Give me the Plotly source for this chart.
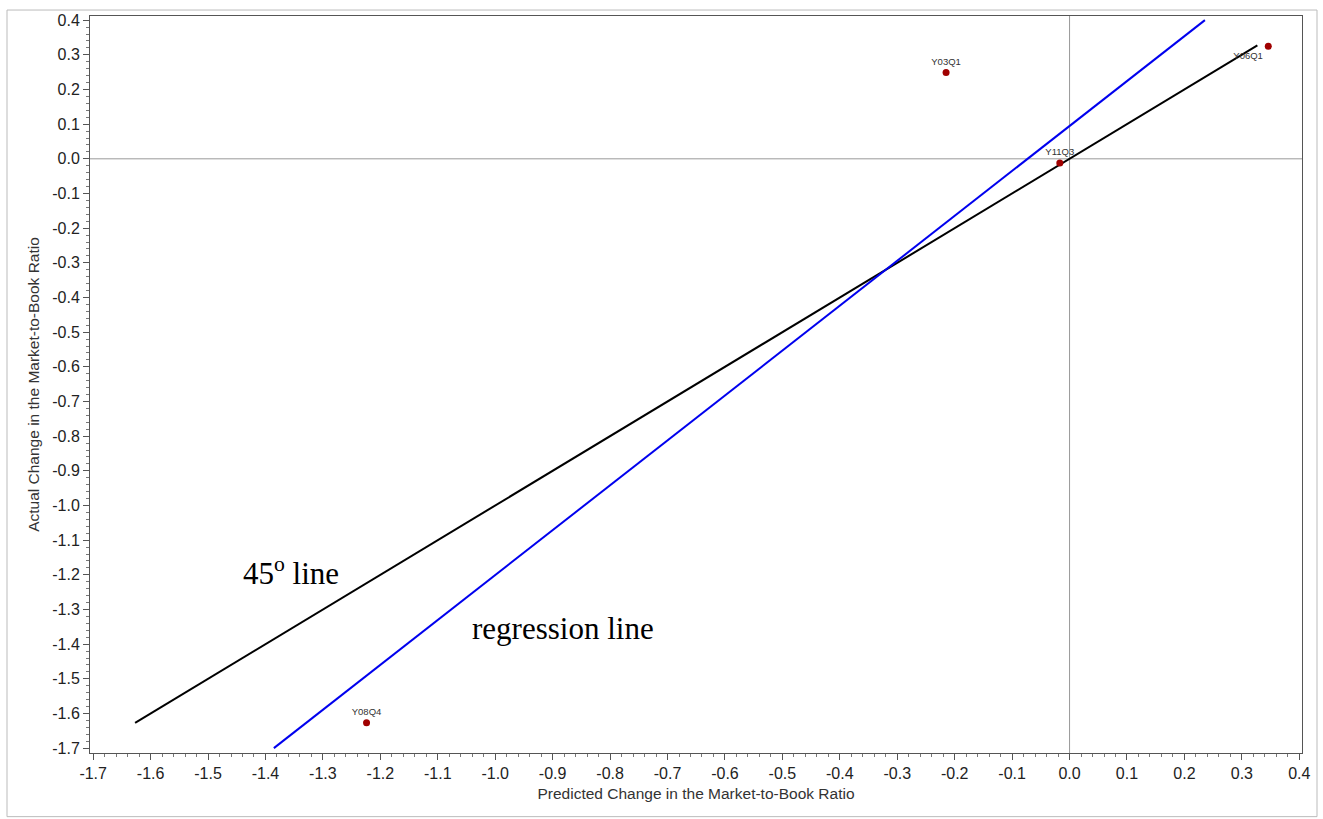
import plotly.graph_objects as go

# Data points (quarters)
point_labels = ["Y03Q1", "Y06Q1", "Y11Q3", "Y08Q4"]
predicted = [-0.215, 0.346, -0.017, -1.224]
actual = [0.249, 0.325, -0.012, -1.627]
label_positions = ["top center", "bottom left", "top center", "top center"]

# 45 degree line endpoints
line45_x = [-1.627, 0.327]
line45_y = [-1.627, 0.327]

# Regression line endpoints
reg_x = [-1.3854, 0.2357]
reg_y = [-1.700, 0.400]

tick_vals = [round(-1.7 + 0.1 * i, 1) for i in range(22)]
tick_text = [f"{v:.1f}" for v in tick_vals]

fig = go.Figure()

fig.add_trace(go.Scatter(
    x=line45_x, y=line45_y, mode="lines",
    line=dict(color="black", width=2), showlegend=False, hoverinfo="skip"))
fig.add_trace(go.Scatter(
    x=reg_x, y=reg_y, mode="lines",
    line=dict(color="#0000ee", width=2), showlegend=False, hoverinfo="skip"))
fig.add_trace(go.Scatter(
    x=predicted, y=actual, mode="markers+text",
    text=point_labels, textposition=label_positions,
    textfont=dict(family="Liberation Sans, Arial", size=9.5, color="#333"),
    marker=dict(color="#a00000", size=7),
    showlegend=False))

# zero reference lines
fig.add_hline(y=0, line=dict(color="#999999", width=1), layer="below")
fig.add_vline(x=0, line=dict(color="#999999", width=1), layer="below")

axis_common = dict(
    showgrid=False, zeroline=False,
    showline=True, mirror=True, linecolor="#555555", linewidth=1,
    ticks="outside", ticklen=6, tickcolor="#555555", tickwidth=1,
    tickvals=tick_vals, ticktext=tick_text,
    tickfont=dict(family="Liberation Sans, Arial", size=16, color="#222"),
    minor=dict(dtick=0.02, ticks="outside", ticklen=3, tickcolor="#777777", tick0=0),
)

fig.update_xaxes(
    range=[-1.7055, 0.4047],
    title=dict(text="Predicted Change in the Market-to-Book Ratio",
               font=dict(family="Liberation Sans, Arial", size=15.5, color="#333"),
               standoff=6),
    **axis_common)
fig.update_yaxes(
    range=[-1.714, 0.412],
    title=dict(text="Actual Change in the Market-to-Book Ratio",
               font=dict(family="Liberation Sans, Arial", size=15.5, color="#333"),
               standoff=8),
    **axis_common)

fig.add_annotation(x=-1.443, y=-1.189, xref="x", yref="y",
                   text="45<sup>o</sup> line", showarrow=False,
                   xanchor="left", yanchor="middle",
                   font=dict(family="Liberation Serif, Times New Roman", size=31, color="black"))
fig.add_annotation(x=-1.044, y=-1.356, xref="x", yref="y",
                   text="regression line", showarrow=False,
                   xanchor="left", yanchor="middle",
                   font=dict(family="Liberation Serif, Times New Roman", size=31, color="black"))

# outer border of the image
fig.add_shape(type="rect", xref="paper", yref="paper",
              x0=-83 / 1212, x1=1227 / 1212, y0=-64 / 741, y1=747 / 741,
              line=dict(color="#bbbbbb", width=1), layer="below")

fig.update_layout(
    width=1323, height=819,
    margin=dict(l=90, r=21, t=12, b=66),
    paper_bgcolor="white", plot_bgcolor="white",
    font=dict(family="Liberation Sans, Arial"),
)

fig.write_html("out.html")
